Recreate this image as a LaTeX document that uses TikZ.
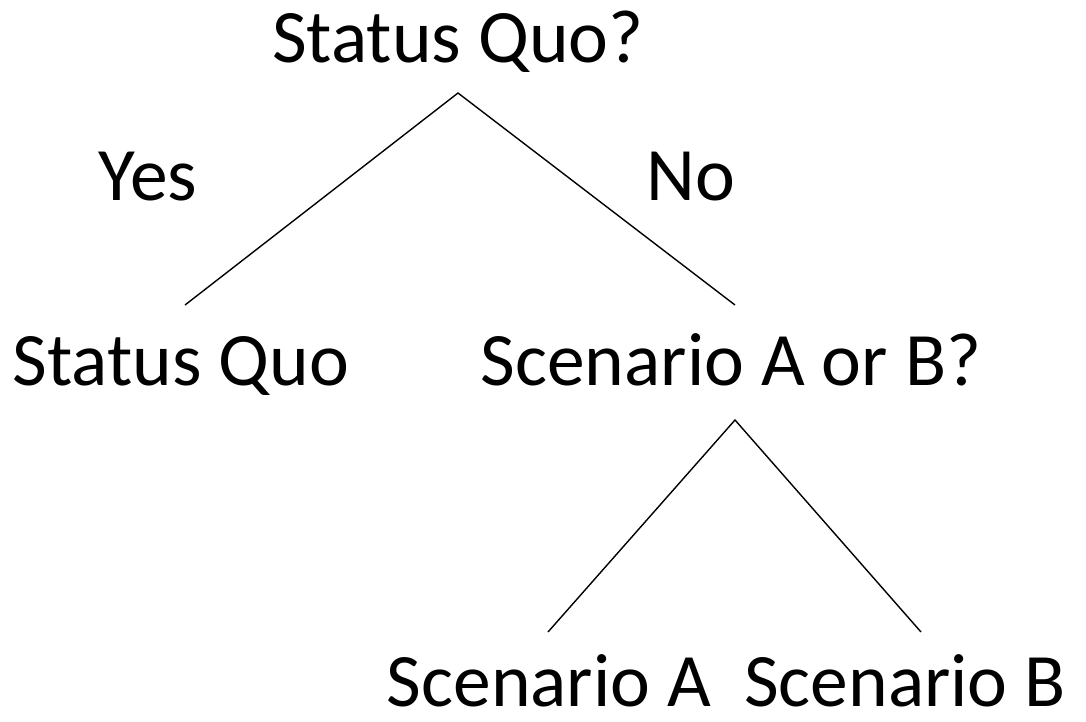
\documentclass[tikz,border=0pt]{standalone}
\usepackage{fontspec}
\setmainfont{Carlito}
\begin{document}
\begin{tikzpicture}[x=1pt,y=-1pt,
  lbl/.style={anchor=base,inner sep=0pt,font=\fontsize{75.5}{80}\selectfont},
  branch/.style={draw=black,line width=1.4pt}]
\useasboundingbox (0,0) rectangle (1086,721);
\node[lbl] (top) at (458,62) {Status Quo?};
\node[lbl] (yes) at (148,200) {Yes};
\node[lbl] (no) at (691,200) {No};
\node[lbl] (sq) at (181,385) {Status Quo};
\node[lbl] (ab) at (731,385) {Scenario A or B?};
\node[lbl] (sa) at (549,706) {Scenario A};
\node[lbl] (sb) at (905,706) {Scenario B};
\coordinate (apex1) at (458,93);
\coordinate (end1l) at (185,305);
\coordinate (end1r) at (735,305);
\coordinate (apex2) at (735,420);
\coordinate (end2l) at (548,632);
\coordinate (end2r) at (921,632);
\draw[branch] (end1l) -- (apex1) -- (end1r);
\draw[branch] (end2l) -- (apex2) -- (end2r);
\end{tikzpicture}
\end{document}
